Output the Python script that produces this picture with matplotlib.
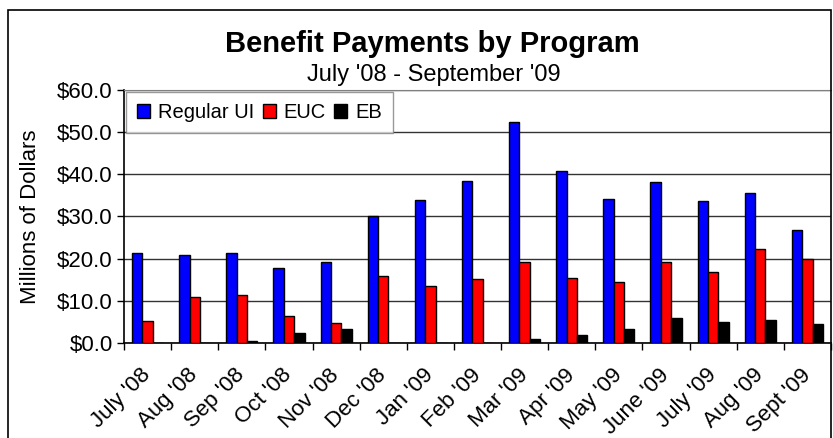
import matplotlib.pyplot as plt
from matplotlib.patches import Rectangle
from matplotlib.transforms import ScaledTranslation
import numpy as np

plt.rcParams['font.family'] = ['Liberation Sans', 'DejaVu Sans']

months = ["July '08", "Aug '08", "Sep '08", "Oct '08", "Nov '08", "Dec '08", "Jan '09",
          "Feb '09", "Mar '09", "Apr '09", "May '09", "June '09", "July '09", "Aug '09", "Sept '09"]
regular_ui = [21.3, 20.9, 21.3, 17.9, 19.3, 30.1, 34.0, 38.5, 52.5, 40.8, 34.1, 38.1, 33.6, 35.5, 26.7]
euc = [5.2, 11.0, 11.5, 6.3, 4.7, 15.9, 13.5, 15.1, 19.3, 15.5, 14.5, 19.3, 16.9, 22.3, 19.9]
eb = [0.0, 0.0, 0.4, 2.4, 3.3, 0.0, 0.0, 0.0, 0.9, 2.0, 3.4, 5.9, 4.9, 5.4, 4.4]

fig = plt.figure(figsize=(8.33, 4.38), dpi=100)
ax = fig.add_axes([124/833, 1-343/438, 707/833, 253/438])

x = np.arange(len(months))
w = 0.22
ax.bar(x - w, regular_ui, width=w, color='#0000FF', edgecolor='black', linewidth=1.0, label='Regular UI', zorder=3)
ax.bar(x, euc, width=w, color='#FF0000', edgecolor='black', linewidth=1.0, label='EUC', zorder=3)
ax.bar(x + w, eb, width=w, color='#000000', edgecolor='black', linewidth=1.0, label='EB', zorder=3)

ax.set_xlim(-0.5, len(months) - 0.5)
ax.set_ylim(0, 60)
ax.set_yticks(np.arange(0, 61, 10))
ax.set_yticklabels(['$%.1f' % v for v in np.arange(0, 61, 10)], fontsize=16)
ax.yaxis.grid(True, color='#333333', linewidth=1.0, zorder=0)

# category boundaries get the tick marks, centers get the labels
ax.set_xticks(np.arange(-0.5, len(months)), labels=[''] * (len(months) + 1))
ax.set_xticks(x, minor=True)
ax.set_xticklabels(months, minor=True, fontsize=16, rotation=45, ha='right', va='center',
                   rotation_mode='anchor')
shift = ScaledTranslation(-7/100, 0, fig.dpi_scale_trans)
for lab in ax.get_xticklabels(minor=True):
    lab.set_transform(lab.get_transform() + shift)
ax.tick_params(axis='x', which='major', direction='out', length=5, width=1)
ax.tick_params(axis='x', which='minor', length=0, pad=21)
ax.tick_params(axis='y', direction='out', length=5, width=1, pad=3)

ax.spines['right'].set_visible(False)
ax.spines['top'].set_color('#808080')
ax.spines['left'].set_linewidth(1.2)
ax.spines['bottom'].set_linewidth(1.2)

ax.set_ylabel('Millions of Dollars', fontsize=16)
ax.yaxis.set_label_coords(-0.117, 0.5)

leg = ax.legend(loc='upper left', bbox_to_anchor=(0, 1), ncol=3, fontsize=14.5, frameon=True,
                fancybox=False, edgecolor='#808080', borderaxespad=0.1,
                handlelength=0.65, handleheight=0.65, handletextpad=0.4, columnspacing=0.4,
                borderpad=0.55)
leg.get_frame().set_linewidth(1.0)

fig.text(432/833, 1-52/438, 'Benefit Payments by Program', fontsize=21, fontweight='bold',
         ha='center', va='baseline')
fig.text(434/833, 1-81/438, "July '08 - September '09", fontsize=17, ha='center', va='baseline')

fig.patches.append(Rectangle((8/833, -0.05), 823/833, 1.05 - 10/438, transform=fig.transFigure,
                             fill=False, edgecolor='black', linewidth=1.2))

fig.savefig('out.png', dpi=100)
